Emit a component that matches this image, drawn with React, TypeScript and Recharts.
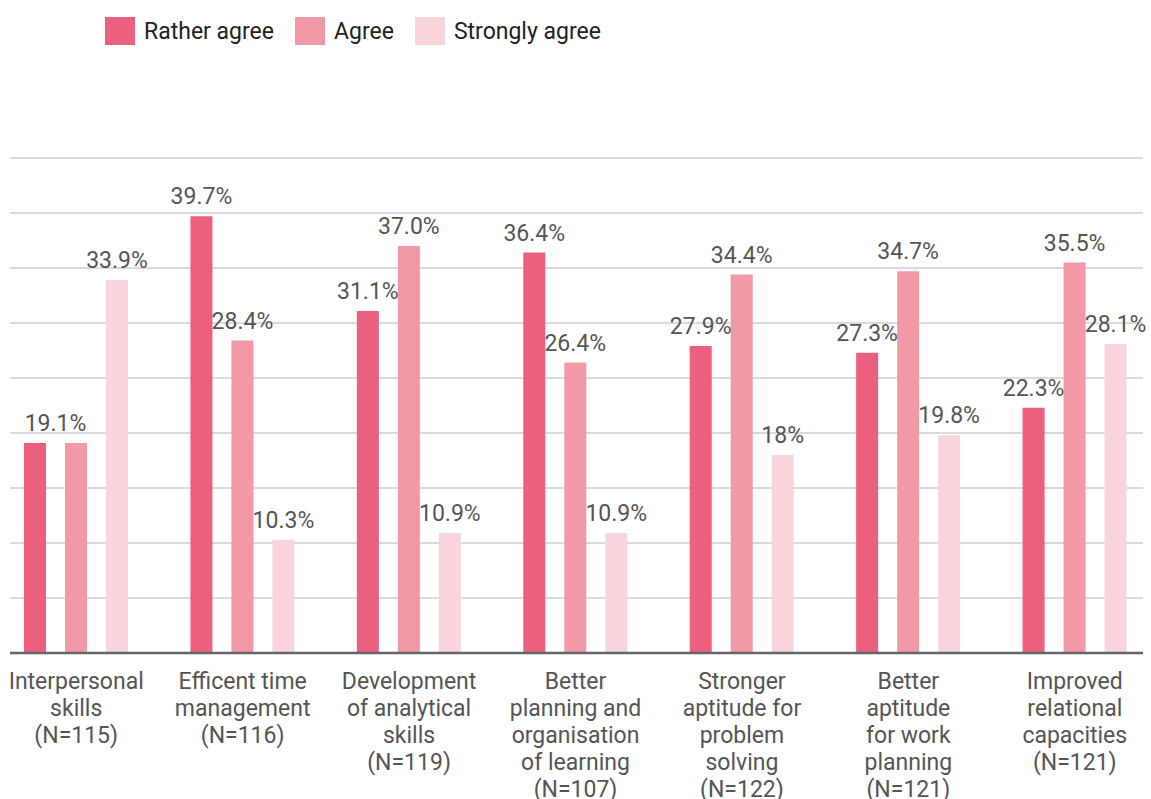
import { BarChart, Bar, XAxis, YAxis, CartesianGrid, Legend, LabelList } from 'recharts';

const categories = [
    'Interpersonal\nskills\n(N=115)',
    'Efficent time\nmanagement\n(N=116)',
    'Development\nof analytical\nskills\n(N=119)',
    'Better\nplanning and\norganisation\nof learning\n(N=107)',
    'Stronger\naptitude for\nproblem\nsolving\n(N=122)',
    'Better\naptitude\nfor work\nplanning\n(N=121)',
    'Improved\nrelational\ncapacities\n(N=121)'
];

const ratherAgree = [19.1, 39.7, 31.1, 36.4, 27.9, 27.3, 22.3];
const agree = [19.1, 28.4, 37.0, 26.4, 34.4, 34.7, 35.5];
const stronglyAgree = [33.9, 10.3, 10.9, 10.9, 18, 19.8, 28.1];

const ratherLabels = ['19.1%', '39.7%', '31.1%', '36.4%', '27.9%', '27.3%', '22.3%'];
const agreeLabels = ['19.1%', '28.4%', '37.0%', '26.4%', '34.4%', '34.7%', '35.5%'];
const stronglyLabels = ['33.9%', '10.3%', '10.9%', '10.9%', '18%', '19.8%', '28.1%'];

const yTicks = [0, 5, 10, 15, 20, 25, 30, 35, 40, 45];

const SERIES = [
    { key: 'rather', name: 'Rather agree', color: '#EC607F', labels: ratherLabels },
    { key: 'agree', name: 'Agree', color: '#F299A8', labels: agreeLabels },
    { key: 'strongly', name: 'Strongly agree', color: '#F9D5DB', labels: stronglyLabels }
];

const FONT = 'Roboto, sans-serif';
const BAR_SIZE = 22;
const BAR_GAP = 19;

const chartData = categories.map((name, i) => ({
    name,
    rather: ratherAgree[i],
    agree: agree[i],
    strongly: stronglyAgree[i]
}));

function CategoryTick({ x, y, payload }: any) {
    const lines = String(payload.value).split('\n');
    return (
        <text x={x} y={y + 36} textAnchor="middle" fontFamily={FONT} fontSize={23} fill="#555">
            {lines.map((line, i) => (
                <tspan key={i} x={x} dy={i === 0 ? 0 : 27}>{line}</tspan>
            ))}
        </text>
    );
}

function makeLabel(seriesKey: string, labels: string[]) {
    return (props: any) => {
        const { x, y, width, index } = props;
        let cx = x + width / 2;
        // equal values in the first two series share one label, centred between them
        if (ratherAgree[index] === agree[index]) {
            if (seriesKey === 'agree') return null;
            if (seriesKey === 'rather') cx = x + width + BAR_GAP / 2;
        }
        return (
            <text x={cx} y={y - 12} textAnchor="middle" fontFamily={FONT} fontSize={23} fill="#555">
                {labels[index]}
            </text>
        );
    };
}

function LegendContent() {
    return (
        <div style={{ display: 'flex', alignItems: 'center', fontFamily: FONT, fontSize: 23, color: '#222' }}>
            {SERIES.map(s => (
                <div key={s.key} style={{ display: 'flex', alignItems: 'center', marginRight: 21 }}>
                    <span style={{ display: 'inline-block', width: 30, height: 28, background: s.color, marginRight: 9 }} />
                    <span>{s.name}</span>
                </div>
            ))}
        </div>
    );
}

export default function App() {
    return (
        <div style={{ position: 'absolute', left: 0, top: 0, width: 1151, height: 799, background: '#fff' }}>
            <BarChart
                width={1151}
                height={799}
                data={chartData}
                margin={{ top: 158, right: 8, bottom: 6, left: 10 }}
                barSize={BAR_SIZE}
                barGap={BAR_GAP}
            >
                <CartesianGrid vertical={false} stroke="#cfcfcf" strokeWidth={1.5} />
                <YAxis hide domain={[0, 45]} ticks={yTicks} />
                <XAxis
                    dataKey="name"
                    height={140}
                    interval={0}
                    tickLine={false}
                    tickSize={0}
                    tickMargin={0}
                    axisLine={{ stroke: '#666', strokeWidth: 2.5 }}
                    padding={{ left: -17, right: -15 }}
                    tick={<CategoryTick />}
                />
                <Legend
                    layout="horizontal"
                    verticalAlign="middle"
                    align="center"
                    content={<LegendContent />}
                    wrapperStyle={{ top: 17, left: 105, width: 'auto' }}
                />
                {SERIES.map(s => (
                    <Bar key={s.key} dataKey={s.key} name={s.name} fill={s.color} isAnimationActive={false}>
                        <LabelList dataKey={s.key} content={makeLabel(s.key, s.labels)} />
                    </Bar>
                ))}
            </BarChart>
        </div>
    );
}
